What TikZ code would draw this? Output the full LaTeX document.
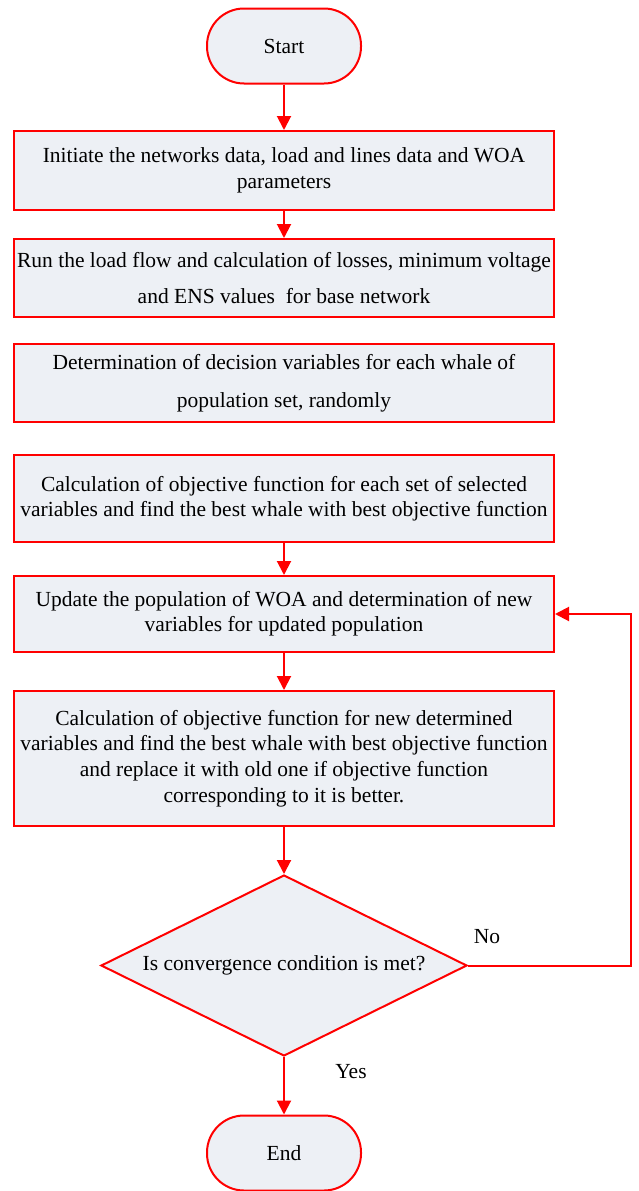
\documentclass[tikz,border=0pt]{standalone}
\usepackage{fontspec}
\setmainfont{Liberation Serif}
\usetikzlibrary{arrows.meta,shapes.geometric}
\definecolor{boxfill}{HTML}{EDF0F5}
\definecolor{lred}{HTML}{FF0000}
\tikzset{
  stepbox/.style={draw=lred, fill=boxfill, line width=2pt, minimum width=540pt, inner sep=0pt, align=center, font=\fontsize{21.5}{26}\selectfont},
  term/.style={draw=lred, fill=boxfill, line width=2pt, minimum width=154pt, minimum height=75pt, rounded corners=37pt, inner sep=0pt, font=\fontsize{21.5}{26}\selectfont},
  decision/.style={draw=lred, fill=boxfill, line width=2pt, diamond, minimum width=366pt, minimum height=181pt, inner sep=0pt, font=\fontsize{21.5}{26}\selectfont},
  conn/.style={draw=lred, line width=2pt, -{Triangle[length=14pt,width=14pt]}},
  lbl/.style={font=\fontsize{21.5}{26}\selectfont, inner sep=0pt}
}
\begin{document}
\begin{tikzpicture}[x=1pt,y=-1pt]
\useasboundingbox (0,0) rectangle (638,1191);
\node[term] (start) at (284,46) {Start};
\node[stepbox, minimum height=79pt] (b1) at (284,170.5) {Initiate the networks data, load and lines data and WOA\\parameters};
\node[stepbox, minimum height=78pt, font=\fontsize{21.5}{36}\selectfont] (b2) at (284,278) {Run the load flow and calculation of losses, minimum voltage\\and ENS values\ \ for base network};
\node[stepbox, minimum height=78pt, font=\fontsize{21.5}{38}\selectfont] (b3) at (284,383) {Determination of decision variables for each whale of\\population set, randomly};
\node[stepbox, minimum height=87pt, font=\fontsize{21.5}{25}\selectfont] (b4) at (284,498.5) {Calculation of objective function for each set of selected\\variables and find the best whale with best objective function};
\node[stepbox, minimum height=76pt, font=\fontsize{21.5}{25}\selectfont] (b5) at (284,614) {Update the population of WOA and determination of new\\variables for updated population};
\node[stepbox, minimum height=135pt, font=\fontsize{21.5}{25.7}\selectfont] (b6) at (284,758.5) {Calculation of objective function for new determined\\variables and find the best whale with best objective function\\and replace it with old one if objective function\\corresponding to it is better.};
\node[decision] (dec) at (284,965.5) {\makebox[0pt]{Is convergence condition is met?}};
\node[term] (end) at (284,1153) {End};
\node[lbl] (no) at (487,937) {No};
\node[lbl] (yes) at (351,1072) {Yes};
\coordinate (lp) at (631,965.5);
\draw[conn] (start) -- (b1);
\draw[conn] (b1) -- (b2);
\draw[conn] (b4) -- (b5);
\draw[conn] (b5) -- (b6);
\draw[conn] (b6) -- (dec);
\draw[conn] (dec) -- (end);
\draw[conn] (dec.east) -- (lp) |- (b5.east);
\end{tikzpicture}
\end{document}
